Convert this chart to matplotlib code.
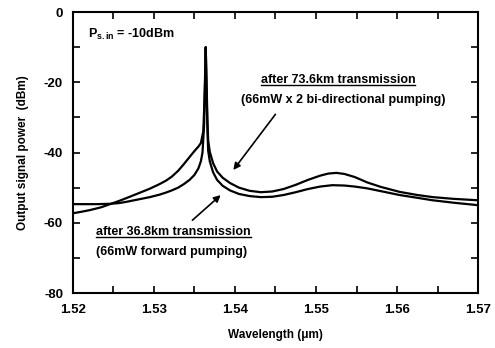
import numpy as np
import matplotlib
matplotlib.use("Agg")
import matplotlib.pyplot as plt
from matplotlib.ticker import MultipleLocator
from matplotlib.lines import Line2D

plt.rcParams['font.family'] = ['Liberation Sans', 'DejaVu Sans']
plt.rcParams['font.weight'] = 'bold'
plt.rcParams['axes.labelweight'] = 'bold'
plt.rcParams['axes.unicode_minus'] = False
plt.rcParams['mathtext.fontset'] = 'custom'
plt.rcParams['mathtext.rm'] = 'Liberation Sans:bold'
plt.rcParams['mathtext.it'] = 'Liberation Sans:bold'
plt.rcParams['mathtext.bf'] = 'Liberation Sans:bold'

# spectrum after 73.6 km, 66 mW x 2 bi-directional pumping
wl_long = [1.5200, 1.5210, 1.5221, 1.5235, 1.5246, 1.5257, 1.5267, 1.5280,
           1.5295, 1.5307, 1.5315, 1.5322, 1.5330, 1.5337, 1.5344, 1.5350,
           1.5355, 1.5358, 1.5361, 1.5362, 1.5363, 1.5364, 1.5365, 1.5366,
           1.5367, 1.5369, 1.5373, 1.5378, 1.5385, 1.5394, 1.5405, 1.5418,
           1.5432, 1.5446, 1.5460, 1.5475, 1.5490, 1.5505, 1.5515, 1.5525,
           1.5535, 1.5548, 1.5563, 1.5580, 1.5603, 1.5625, 1.5644, 1.5670,
           1.5700]
p_long = [-57.3, -56.9, -56.4, -55.6, -54.7, -53.8, -52.9, -51.7,
          -50.3, -49.0, -48.0, -46.9, -45.2, -43.3, -41.3, -39.6,
          -38.3, -37.3, -34.0, -28.0, -20.0, -10.0, -20.0, -30.0,
          -36.5, -39.8, -43.0, -45.4, -47.2, -48.7, -50.0, -50.9,
          -51.3, -51.1, -50.4, -49.2, -47.8, -46.6, -46.0, -45.8,
          -46.1, -47.0, -48.5, -49.8, -51.2, -52.1, -52.7, -53.2,
          -53.6]

# spectrum after 36.8 km, 66 mW forward pumping
wl_short = [1.5200, 1.5215, 1.5230, 1.5246, 1.5257, 1.5267, 1.5280, 1.5295,
            1.5307, 1.5315, 1.5322, 1.5330, 1.5337, 1.5344, 1.5350, 1.5355,
            1.5358, 1.5360, 1.5362, 1.5363, 1.5364, 1.5365, 1.5366, 1.5367,
            1.5369, 1.5373, 1.5378, 1.5385, 1.5394, 1.5405, 1.5418, 1.5432,
            1.5446, 1.5460, 1.5475, 1.5490, 1.5505, 1.5520, 1.5535, 1.5548,
            1.5563, 1.5580, 1.5603, 1.5625, 1.5644, 1.5670, 1.5700]
p_short = [-54.7, -54.7, -54.7, -54.6, -54.4, -54.0, -53.4, -52.7,
           -52.0, -51.4, -50.8, -50.0, -49.0, -47.8, -46.4, -44.5,
           -42.5, -40.0, -32.0, -22.0, -10.0, -22.0, -33.0, -39.5,
           -42.5, -45.6, -47.8, -49.5, -50.8, -51.8, -52.4, -52.7,
           -52.6, -52.1, -51.3, -50.4, -49.7, -49.3, -49.4, -49.7,
           -50.2, -51.0, -52.1, -52.9, -53.6, -54.3, -55.0]

fig = plt.figure(figsize=(4.95, 3.48), dpi=100)
ax = fig.add_axes([0.147, 0.158, 0.819, 0.8075])

ax.plot(wl_long, p_long, color='black', lw=1.6)
ax.plot(wl_short, p_short, color='black', lw=1.6)

ax.set_xlim(1.52, 1.57)
ax.set_ylim(-80, 0)
ax.xaxis.set_major_locator(MultipleLocator(0.01))
ax.xaxis.set_minor_locator(MultipleLocator(0.005))
ax.yaxis.set_major_locator(MultipleLocator(20))
ax.yaxis.set_minor_locator(MultipleLocator(10))
ax.set_xticks([1.52, 1.53, 1.54, 1.55, 1.56, 1.57])
ax.set_xticklabels(['1.52', '1.53', '1.54', '1.55', '1.56', '1.57'])
ax.tick_params(which='both', direction='in', top=True, right=True,
               width=1.2, labelsize=9.5)
ax.tick_params(which='major', length=5)
ax.tick_params(which='minor', length=5)
ax.tick_params(axis='x', pad=8)
ax.tick_params(axis='y', pad=7)
for s in ax.spines.values():
    s.set_linewidth(1.5)

ax.set_xlabel('Wavelength (\u03bcm)', fontsize=8.5, labelpad=9)
ax.set_ylabel('Output signal power  (dBm)', fontsize=8.5, labelpad=11)

ax.text(1.5219, -6.3, r'P$_{\mathrm{s.in}}$ = -10dBm', fontsize=9,
        va='center', ha='left')

t1 = ax.text(1.5527, -19.4, 'after 73.6km transmission', fontsize=9,
             ha='center', va='center')
ax.text(1.5534, -25.1, '(66mW x 2 bi-directional pumping)', fontsize=9,
        ha='center', va='center')
t2 = ax.text(1.5229, -62.7, 'after 36.8km transmission', fontsize=9,
             ha='left', va='center')
ax.text(1.5229, -68.4, '(66mW forward pumping)', fontsize=9,
        ha='left', va='center')

arrow = dict(arrowstyle='-|>', color='black', lw=1.2, mutation_scale=10)
ax.annotate('', xy=(1.5396, -45.6), xytext=(1.5452, -28.5), arrowprops=arrow)
ax.annotate('', xy=(1.5385, -51.6), xytext=(1.5345, -59.8), arrowprops=arrow)

# underline the two transmission headings
fig.canvas.draw()
r = fig.canvas.get_renderer()
for t in (t1, t2):
    bb = t.get_window_extent(r).transformed(fig.transFigure.inverted())
    fig.add_artist(Line2D([bb.x0, bb.x1], [bb.y0 + 0.004, bb.y0 + 0.004],
                          color='black', lw=1.0, transform=fig.transFigure))

fig.savefig('out.png', dpi=100)
